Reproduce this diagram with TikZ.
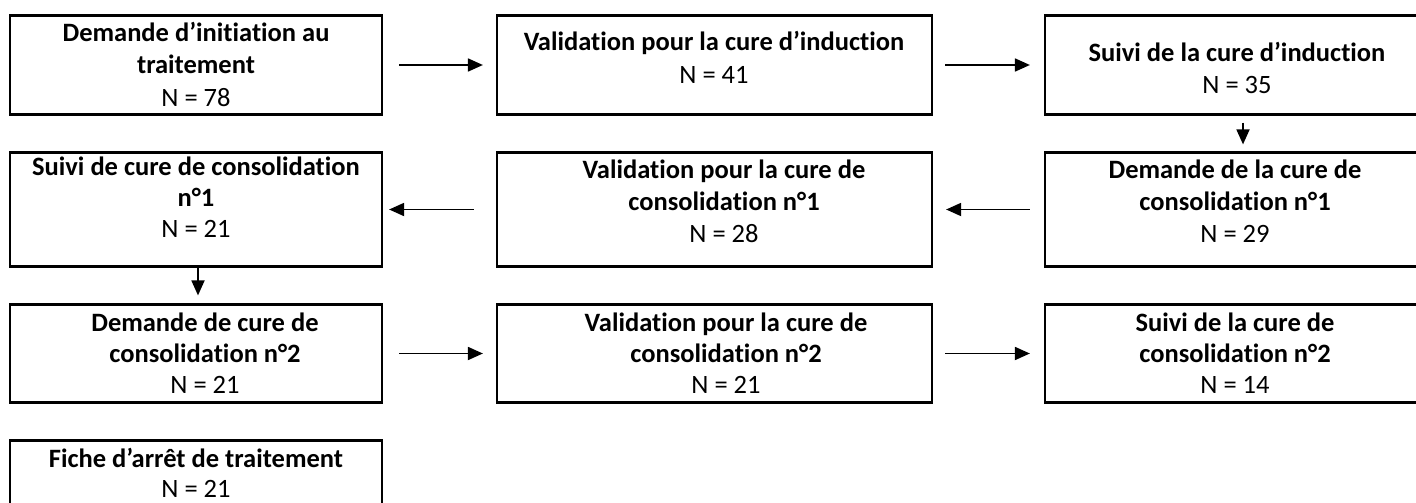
\documentclass[tikz,border=0pt]{standalone}
\usepackage{fontspec}
\setmainfont{Carlito}[Ligatures=NoCommon]
\usetikzlibrary{arrows.meta}
\begin{document}
\begin{tikzpicture}[x=1pt,y=-1pt,
  box/.style={draw, line width=2.2pt, inner sep=0pt},
  hd/.style={font=\fontsize{26.5}{30}\selectfont\bfseries, inner sep=0pt, anchor=base},
  nn/.style={font=\fontsize{26.5}{30}\selectfont, inner sep=0pt, anchor=base},
  arr/.style={line width=1.8pt, -{Triangle[length=15pt,width=13pt]}}]
\useasboundingbox (0,0) rectangle (1416,503);
% boxes
\node[box, minimum width=372pt, minimum height=99pt] (b1) at (196,65) {};
\node[box, minimum width=435pt, minimum height=99pt] (b2) at (714.5,65) {};
\node[box, minimum width=400pt, minimum height=99pt] (b3) at (1245,65) {};
\node[box, minimum width=372pt, minimum height=114pt] (b4) at (196,209.5) {};
\node[box, minimum width=435pt, minimum height=114pt] (b5) at (714.5,209.5) {};
\node[box, minimum width=400pt, minimum height=114pt] (b6) at (1245,209.5) {};
\node[box, minimum width=372pt, minimum height=98pt] (b7) at (196,353.5) {};
\node[box, minimum width=435pt, minimum height=98pt] (b8) at (714.5,353.5) {};
\node[box, minimum width=400pt, minimum height=98pt] (b9) at (1245,353.5) {};
\node[box, minimum width=372pt, minimum height=99pt] (b10) at (196,490) {};
% texts
\node[hd] (t1a) at (196,42) {Demande d’initiation au};
\node[hd] (t1b) at (196,74) {traitement};
\node[nn] (t1c) at (196,106) {N = 78};
\node[hd] (t2a) at (714,51) {Validation pour la cure d’induction};
\node[nn] (t2b) at (714,83) {N = 41};
\node[hd] (t3a) at (1237,62) {Suivi de la cure d’induction};
\node[nn] (t3b) at (1237,93) {N = 35};
\node[hd] (t4a) at (196,175) {Suivi de cure de consolidation};
\node[hd] (t4b) at (196,206) {n°1};
\node[nn] (t4c) at (196,237) {N = 21};
\node[hd] (t5a) at (724,178) {Validation pour la cure de};
\node[hd] (t5b) at (724,210) {consolidation n°1};
\node[nn] (t5c) at (724,242) {N = 28};
\node[hd] (t6a) at (1235,178) {Demande de la cure de};
\node[hd] (t6b) at (1235,210) {consolidation n°1};
\node[nn] (t6c) at (1235,242) {N = 29};
\node[hd] (t7a) at (205,331) {Demande de cure de};
\node[hd] (t7b) at (205,362) {consolidation n°2};
\node[nn] (t7c) at (205,393) {N = 21};
\node[hd] (t8a) at (726,331) {Validation pour la cure de};
\node[hd] (t8b) at (726,362) {consolidation n°2};
\node[nn] (t8c) at (726,393) {N = 21};
\node[hd] (t9a) at (1235,331) {Suivi de la cure de};
\node[hd] (t9b) at (1235,362) {consolidation n°2};
\node[nn] (t9c) at (1235,393) {N = 14};
\node[hd] (t10a) at (196,467) {Fiche d’arrêt de traitement};
\node[nn] (t10b) at (196,497) {N = 21};
% arrows
\draw[arr] ([xshift=16pt]b1.east) -- ([xshift=-13pt]b2.west);
\draw[arr] ([xshift=12pt]b2.east) -- ([xshift=-14pt]b3.west);
\draw[arr] ([xshift=-2pt,yshift=-7pt]b3.south) -- ([xshift=-2pt,yshift=7pt]b6.north);
\draw[arr] ([xshift=-14pt]b6.west) -- ([xshift=13pt]b5.east);
\draw[arr] ([xshift=-22pt]b5.west) -- ([xshift=6pt]b4.east);
\draw[arr] ([xshift=2pt,yshift=1pt]b4.south) -- ([xshift=2pt,yshift=8pt]b7.north);
\draw[arr] ([xshift=16pt]b7.east) -- ([xshift=-13pt]b8.west);
\draw[arr] ([xshift=12pt]b8.east) -- ([xshift=-14pt]b9.west);
\end{tikzpicture}
\end{document}
